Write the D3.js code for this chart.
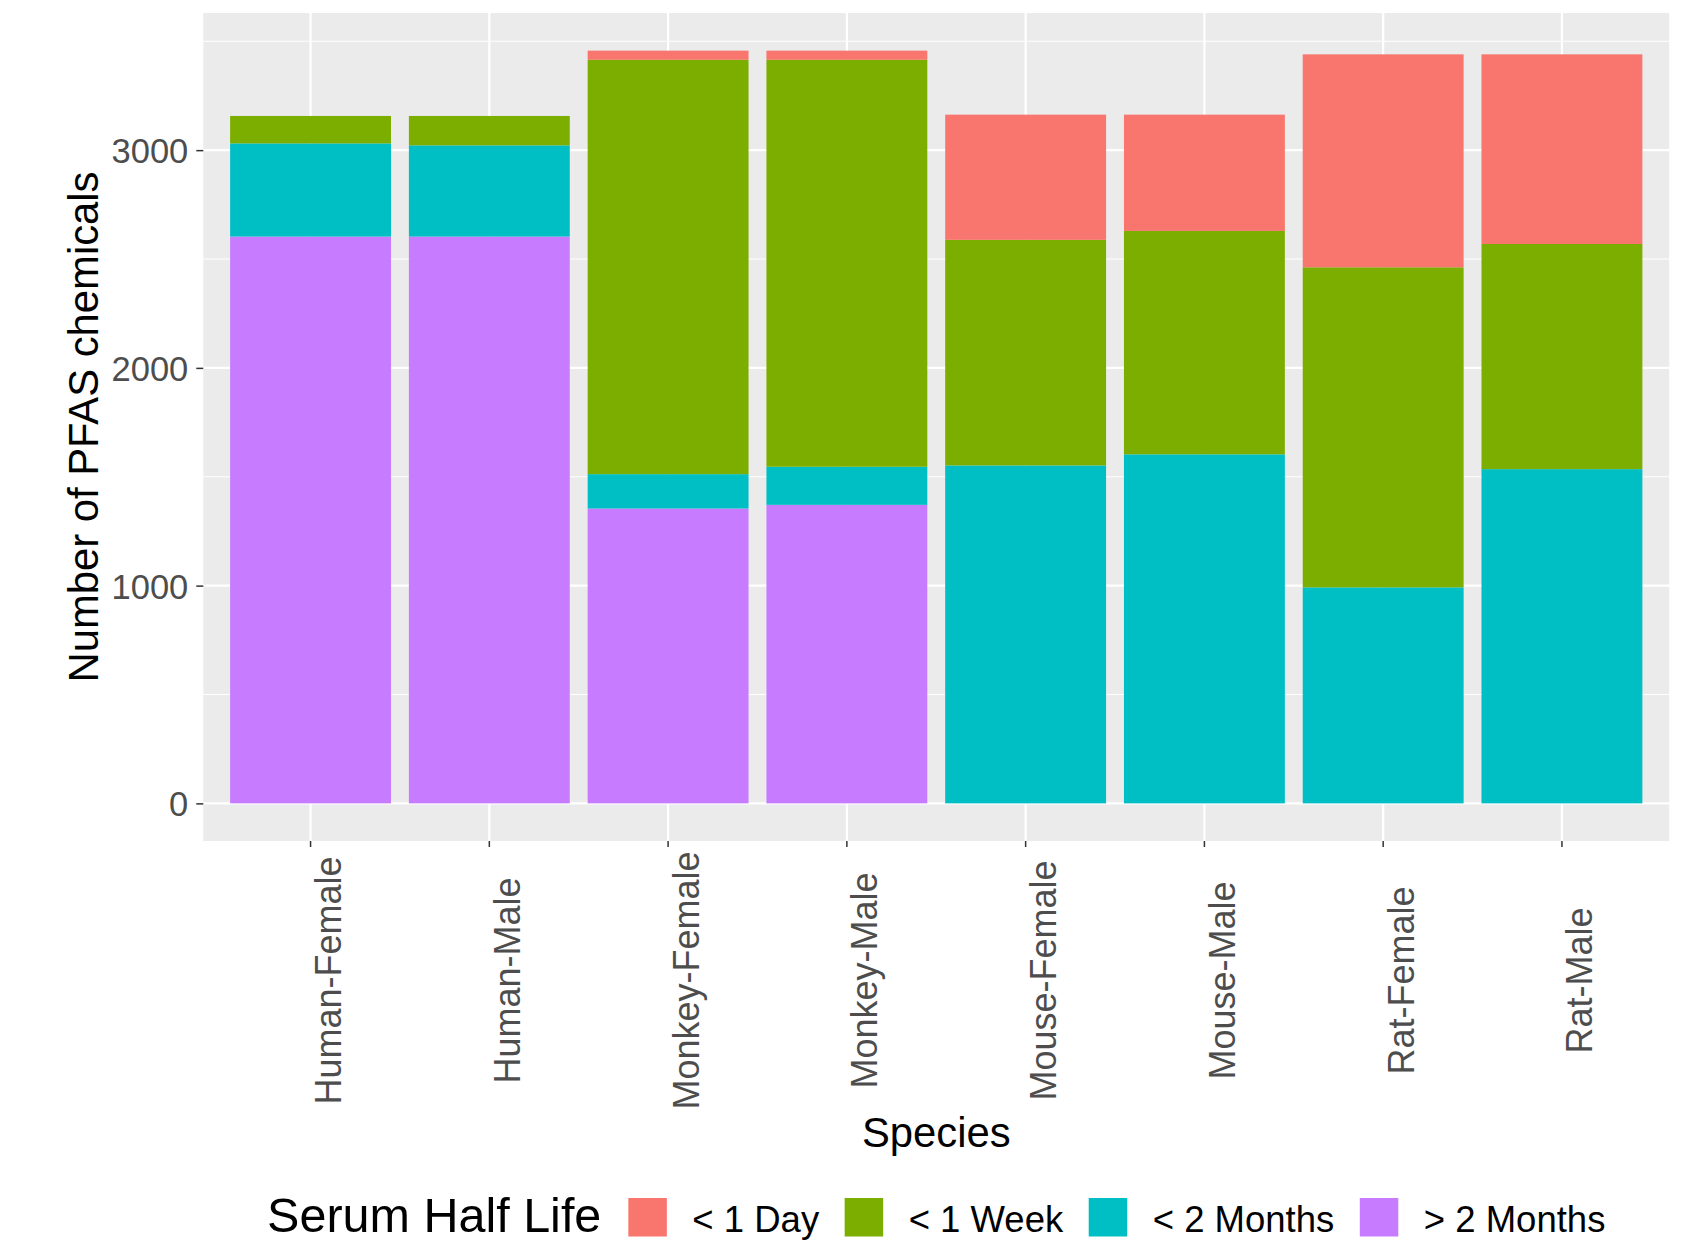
<!DOCTYPE html>
<html>
<head>
<meta charset="utf-8">
<script src="https://cdnjs.cloudflare.com/ajax/libs/d3/7.8.5/d3.min.js"></script>
<style>
    body { margin: 0; background: #fff; }
    text { font-family: 'Liberation Sans', Arial, sans-serif; }
</style>
</head>
<body>
<div id="chart"></div>
<script>
// the data
const species = ['Human-Female', 'Human-Male', 'Monkey-Female', 'Monkey-Male', 'Mouse-Female', 'Mouse-Male', 'Rat-Female', 'Rat-Male']
const lessDay = [0, 0, 42, 42, 575, 534, 978, 871]
const lessWeek = [126, 135, 1903, 1869, 1036, 1026, 1470, 1034]
const lessTwoMonths = [428, 419, 158, 175, 1552, 1603, 992, 1535]
const moreTwoMonths = [2603, 2603, 1354, 1371, 0, 0, 0, 0]
const halfLifeLabels = ['< 1 Day', '< 1 Week', '< 2 Months', '> 2 Months']
const halfLifeColours = ['#F8766D', '#7CAE00', '#00BFC4', '#C77CFF']
const yTicks = [0, 1000, 2000, 3000]
const yMinorTicks = [500, 1500, 2500, 3500]

// dimensions
const w = 1694
const h = 1242
const pLeft = 203.3
const pRight = 1669.2
const pTop = 13
const pBottom = 841

// rows for the stack
const rows = species.map((s, i) => ({
    species: s,
    '< 1 Day': lessDay[i],
    '< 1 Week': lessWeek[i],
    '< 2 Months': lessTwoMonths[i],
    '> 2 Months': moreTwoMonths[i]
}))

// ggplot stacks the first level on top, so stack from the last one
const stackKeys = [...halfLifeLabels].reverse()
const series = d3.stack().keys(stackKeys)(rows)
const colour = d3.scaleOrdinal().domain(halfLifeLabels).range(halfLifeColours)

const maxTotal = d3.max(rows, d => d3.sum(halfLifeLabels, k => d[k]))

const svg = d3.select('#chart')
    .append('svg')
    .attr('width', w)
    .attr('height', h)

// scales
const xScale = d3.scaleBand()
    .domain(species)
    .range([pLeft, pRight])
    .paddingInner(0.1)
    .paddingOuter(0.15)

const yScale = d3.scaleLinear()
    .domain([-0.05 * maxTotal, 1.05 * maxTotal])
    .range([pBottom, pTop])

// panel background
svg.append('rect')
    .attr('x', pLeft)
    .attr('y', pTop)
    .attr('width', pRight - pLeft)
    .attr('height', pBottom - pTop)
    .attr('fill', '#EBEBEB')

// grid lines
svg.append('g')
    .selectAll('line')
    .data(yMinorTicks)
    .enter()
    .append('line')
    .attr('x1', pLeft)
    .attr('x2', pRight)
    .attr('y1', d => yScale(d))
    .attr('y2', d => yScale(d))
    .attr('stroke', '#fff')
    .attr('stroke-width', 1.1)

svg.append('g')
    .selectAll('line')
    .data(yTicks)
    .enter()
    .append('line')
    .attr('x1', pLeft)
    .attr('x2', pRight)
    .attr('y1', d => yScale(d))
    .attr('y2', d => yScale(d))
    .attr('stroke', '#fff')
    .attr('stroke-width', 2.2)

svg.append('g')
    .selectAll('line')
    .data(species)
    .enter()
    .append('line')
    .attr('x1', d => xScale(d) + xScale.bandwidth() / 2)
    .attr('x2', d => xScale(d) + xScale.bandwidth() / 2)
    .attr('y1', pTop)
    .attr('y2', pBottom)
    .attr('stroke', '#fff')
    .attr('stroke-width', 2.2)

// stacked bars
svg.append('g')
    .selectAll('g')
    .data(series)
    .enter()
    .append('g')
    .attr('fill', d => colour(d.key))
    .selectAll('rect')
    .data(d => d)
    .enter()
    .append('rect')
    .attr('x', d => xScale(d.data.species))
    .attr('y', d => yScale(d[1]))
    .attr('width', xScale.bandwidth())
    .attr('height', d => yScale(d[0]) - yScale(d[1]))

// x axis
const xAxis = d3.axisBottom(xScale).tickSizeInner(6).tickSizeOuter(0).tickPadding(0)

const gx = svg.append('g')
    .attr('transform', `translate(0,${pBottom})`)
    .call(xAxis)

gx.select('.domain').remove()
gx.selectAll('.tick line').attr('stroke', '#333').attr('stroke-width', 1.5)
gx.selectAll('.tick text')
    .attr('transform', 'translate(30.5,139.5) rotate(-90)')
    .attr('x', 0)
    .attr('y', 0)
    .attr('dy', 0)
    .attr('text-anchor', 'middle')
    .attr('fill', '#4D4D4D')
    .style('font-size', '36px')
    .style('font-family', "'Liberation Sans', Arial, sans-serif")

// y axis
const yAxis = d3.axisLeft(yScale)
    .tickValues(yTicks)
    .tickFormat(d3.format('d'))
    .tickSizeInner(7)
    .tickSizeOuter(0)
    .tickPadding(8)

const gy = svg.append('g')
    .attr('transform', `translate(${pLeft},0)`)
    .call(yAxis)

gy.select('.domain').remove()
gy.selectAll('.tick line').attr('stroke', '#333').attr('stroke-width', 1.5)
gy.selectAll('.tick text')
    .attr('fill', '#4D4D4D')
    .attr('dy', '0.36em')
    .style('font-size', '34.5px')
    .style('font-family', "'Liberation Sans', Arial, sans-serif")

// axis titles
svg.append('text')
    .attr('x', (pLeft + pRight) / 2)
    .attr('y', 1147)
    .attr('text-anchor', 'middle')
    .style('font-size', '41.8px')
    .text('Species')

svg.append('text')
    .attr('transform', `translate(97.5,${(pTop + pBottom) / 2}) rotate(-90)`)
    .attr('text-anchor', 'middle')
    .style('font-size', '41.8px')
    .text('Number of PFAS chemicals')

// legend, laid out left to right then centred under the panel
const legend = svg.append('g')
const legendBaseline = 1232
const keyTop = 1198
const keySize = 38.5

const title = legend.append('text')
    .attr('x', 0)
    .attr('y', legendBaseline)
    .style('font-size', '48.5px')
    .text('Serum Half Life')

let cursor = title.node().getComputedTextLength() + 27
halfLifeLabels.forEach((label, i) => {
    legend.append('rect')
        .attr('x', cursor)
        .attr('y', keyTop)
        .attr('width', keySize)
        .attr('height', keySize)
        .attr('fill', colour(label))
    cursor += keySize + 25.5
    const t = legend.append('text')
        .attr('x', cursor)
        .attr('y', legendBaseline)
        .style('font-size', '36.5px')
        .text(label)
    cursor += t.node().getComputedTextLength()
    if (i < halfLifeLabels.length - 1) cursor += 25.5
})

legend.attr('transform', `translate(${(pLeft + pRight) / 2 - cursor / 2},0)`)
</script>
</body>
</html>
